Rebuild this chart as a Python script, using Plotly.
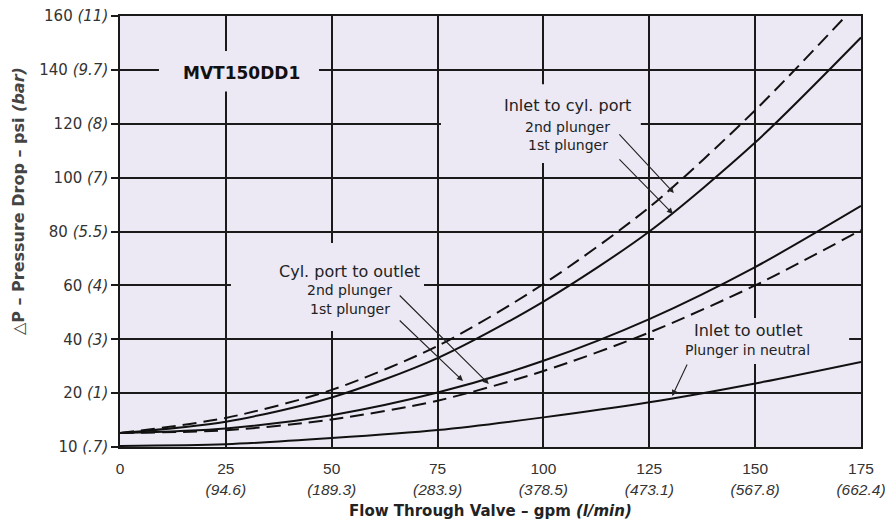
import plotly.graph_objects as go

# flow through valve, gpm (with l/min equivalents for the tick labels)
flow_gpm = [0, 25, 50, 75, 100, 125, 150, 175]
flow_lpm = ["", "94.6", "189.3", "283.9", "378.5", "473.1", "567.8", "662.4"]

# pressure axis ticks, psi and bar
psi_ticks = [10, 20, 40, 60, 80, 100, 120, 140, 160]
bar_ticks = [".7", "1", "3", "4", "5.5", "7", "8", "9.7", "11"]

# pressure drop, psi at each flow value
inlet_cyl_2nd = [12.6, 15.4, 21.2, 37.5, 60.5, 89, 125, 166]
inlet_cyl_1st = [12.6, 14.7, 19.2, 33, 54, 80, 113, 152]
cyl_out_1st = [12.6, 13.45, 15.9, 20.2, 32, 47.5, 66.8, 89.5]
cyl_out_2nd = [12.6, 13.1, 15.1, 18.6, 28.2, 42.5, 60, 80.5]
inlet_outlet = [10.2, 10.5, 11.65, 13.15, 15.5, 18.3, 23.6, 31.6]

FONT = "DejaVu Sans"
BG = "#ECE9F4"


def axis_pos(psi):
    # the chart's scale is stretched below 20 psi: 10-20 psi takes a full grid step
    return psi if psi >= 20 else (psi - 10) * 2


def to_axis(vals):
    return [axis_pos(v) for v in vals]


fig = go.Figure()

series = [
    ("Inlet to cyl. port, 2nd plunger", inlet_cyl_2nd, "14px,7px"),
    ("Inlet to cyl. port, 1st plunger", inlet_cyl_1st, "solid"),
    ("Cyl. port to outlet, 1st plunger", cyl_out_1st, "solid"),
    ("Cyl. port to outlet, 2nd plunger", cyl_out_2nd, "14px,7px"),
    ("Inlet to outlet, plunger in neutral", inlet_outlet, "solid"),
]
for name, vals, dash in series:
    fig.add_trace(go.Scatter(
        x=flow_gpm, y=to_axis(vals), name=name, mode="lines",
        line=dict(color="#111111", width=2, dash=dash, shape="spline", smoothing=0.8),
        customdata=vals,
        hovertemplate="%{x} gpm: %{customdata} psi<extra>" + name + "</extra>",
    ))

# gaps in the grid behind the labels
masks = [(9.2, 47, 132, 147), (75.8, 123, 105.4, 134.7),
         (26.2, 71.8, 43.1, 75.7), (126.1, 172.2, 30.8, 47.9)]
for x0, x1, y0, y1 in masks:
    fig.add_shape(type="rect", x0=x0, x1=x1, y0=y0, y1=y1, layer="between",
                  fillcolor=BG, line=dict(width=0))

labels = [
    ("<b>MVT150DD1</b>", 28.8, 138.8, 17, "#111111"),
    ("Inlet to cyl. port", 105.8, 126.6, 16, "#222222"),
    ("2nd plunger", 105.8, 118.8, 14, "#222222"),
    ("1st plunger", 105.8, 112.1, 14, "#222222"),
    ("Cyl. port to outlet", 54.3, 65.3, 16, "#222222"),
    ("2nd plunger", 54.3, 58.3, 14, "#222222"),
    ("1st plunger", 54.3, 51.2, 14, "#222222"),
    ("Inlet to outlet", 148.3, 43.1, 16, "#222222"),
    ("Plunger in neutral", 148.3, 36.0, 14, "#222222"),
]
for text, x, y, size, color in labels:
    fig.add_annotation(x=x, y=y, text=text, showarrow=False,
                       font=dict(family=FONT, size=size, color=color))

# leader arrows: (tail x, tail y, head x, head y)
arrows = [(117.6, 116.6, 130.8, 94.3), (117.6, 107.3, 130.6, 86.5),
          (65.7, 56.8, 87.1, 23.4), (65.7, 47.5, 81.0, 24.5),
          (134.1, 31.2, 130.4, 18.9)]
for ax, ay, hx, hy in arrows:
    fig.add_annotation(x=hx, y=hy, ax=ax, ay=ay, xref="x", yref="y",
                       axref="x", ayref="y", text="", showarrow=True,
                       arrowhead=2, arrowsize=1.1, arrowwidth=1.1,
                       arrowcolor="#222222")

# axis titles
fig.add_annotation(xref="paper", yref="paper", x=-0.136, y=0.571, textangle=-90,
                   xanchor="center", yanchor="middle",
                   text="<b>\u25b3P \u2013 Pressure Drop \u2013 psi <i>(bar)</i></b>",
                   showarrow=False, font=dict(family=FONT, size=16, color="#444444"))
fig.add_annotation(xref="paper", yref="paper", x=0.5, y=-0.1485,
                   xanchor="center", yanchor="middle",
                   text="<b>Flow Through Valve \u2013 gpm <i>(l/min)</i></b>",
                   showarrow=False, font=dict(family=FONT, size=15, color="#222222"))

x_text = [f"{g}<br><i>({l})</i>" if l else str(g) for g, l in zip(flow_gpm, flow_lpm)]
y_text = [f"{p} <i>({b})</i>" for p, b in zip(psi_ticks, bar_ticks)]

fig.update_xaxes(
    range=[0, 175], tickvals=flow_gpm, ticktext=x_text, automargin=False,
    showgrid=True, gridcolor="#1a1a1a", gridwidth=1.5,
    showline=True, linecolor="#1a1a1a", linewidth=1.5, mirror=True,
    ticks="", zeroline=False, ticklabelstandoff=7, ticklabeloverflow="allow",
    tickfont=dict(family="Liberation Sans", size=15.5, color="#333333"),
)
fig.update_yaxes(
    range=[0, 160], tickvals=to_axis(psi_ticks), ticktext=y_text, automargin=False,
    showgrid=True, gridcolor="#1a1a1a", gridwidth=1.5,
    showline=True, linecolor="#1a1a1a", linewidth=1.5, mirror=True,
    ticks="outside", ticklen=7, tickcolor="#1a1a1a", tickwidth=1.5, zeroline=False,
    ticklabeloverflow="allow",
    tickfont=dict(family=FONT, size=15, color="#333333"),
)
# the page puts a small margin round the figure, so keep the figure inside the window
fig.update_layout(
    width=878, height=513, autosize=False,
    margin=dict(l=112, r=25, t=8, b=74),
    plot_bgcolor=BG, paper_bgcolor="white",
    showlegend=False,
)

fig.write_html("out.html")
